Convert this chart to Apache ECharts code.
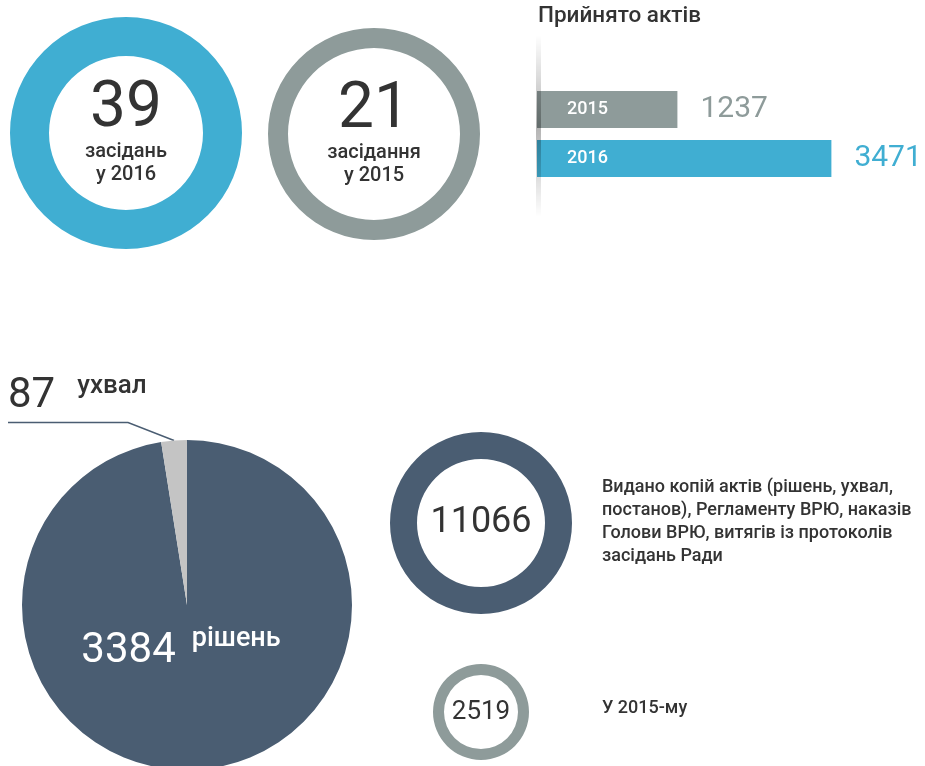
<!DOCTYPE html>
<html style="height: 100%">
  <head>
    <meta charset="UTF-8" />
    <title>ECharts</title>
    <script src="https://cdn.jsdelivr.net/npm/echarts/dist/echarts.min.js"></script>
  </head>
  <body style="height: 100%; margin: 0">
    <div id="main" style="width: 925px; height: 766px"></div>
    <script>
      var chartDom = document.getElementById('main');
      var myChart = echarts.init(chartDom);
      var option;

      // засідання
      var sessionYears = ['2016', '2015'];
      var sessionCounts = [39, 21];
      var sessionWords = ['засідань', 'засідання'];

      // прийнято актів
      var actYears = ['2015', '2016'];
      var actCounts = [1237, 3471];

      // рішення / ухвали
      var actTypes = ['рішень', 'ухвал'];
      var actTypeCounts = [3384, 87];

      // копії актів
      var copyCounts = [11066, 2519];
      var copyLabels = [
        'Видано копій актів (рішень, ухвал,\nпостанов), Регламенту ВРЮ, наказів\nГолови ВРЮ, витягів із протоколів\nзасідань Ради',
        'У 2015-му'
      ];

      var BLUE = '#40aed2';
      var GRAY = '#8e9b9a';
      var SLATE = '#4a5d72';
      var LIGHT = '#c4c4c4';
      var TEXT = '#333333';
      var NUM_FONT = 'Roboto, sans-serif';
      var FONT = 'Roboto, sans-serif';

      function ring(center, radius, color, value, formatter, rich) {
        return {
          type: 'pie',
          silent: true,
          center: center,
          radius: radius,
          startAngle: 90,
          itemStyle: { color: color },
          label: { show: true, position: 'center', formatter: formatter, rich: rich },
          labelLine: { show: false },
          data: [{ value: value, name: '' }]
        };
      }

      function sessionText(i) {
        return '{n|' + sessionCounts[i] + '}\n{t|' + sessionWords[i] + '}\n{t|у ' + sessionYears[i] + '}';
      }

      var sessionRich = {
        n: { fontFamily: NUM_FONT, fontSize: 64, lineHeight: 60, color: TEXT },
        t: { fontFamily: FONT, fontSize: 20, fontWeight: 500, lineHeight: 23, color: TEXT }
      };

      var actColors = [GRAY, BLUE];

      option = {
        animation: false,
        title: [
          {
            text: 'Прийнято актів',
            left: 538,
            top: 5,
            padding: 0,
            textStyle: { fontFamily: FONT, fontSize: 22.5, fontWeight: 500, color: TEXT }
          },
          {
            text: copyLabels[0],
            left: 602,
            top: 476,
            padding: 0,
            textStyle: { fontFamily: FONT, fontSize: 18, lineHeight: 23, fontWeight: 500, color: TEXT }
          },
          {
            text: copyLabels[1],
            left: 602,
            top: 697,
            padding: 0,
            textStyle: { fontFamily: FONT, fontSize: 18, lineHeight: 23, fontWeight: 500, color: TEXT }
          }
        ],
        grid: { left: 537, top: 85, width: 386, height: 98 },
        xAxis: { type: 'value', min: -800, max: 4800, startValue: -800, show: false },
        yAxis: { type: 'category', data: actYears, inverse: true, show: false },
        graphic: [
          {
            type: 'rect',
            z: 100,
            silent: true,
            shape: { x: 536, y: 35, width: 5, height: 182 },
            style: {
              fill: new echarts.graphic.LinearGradient(0, 0, 0, 1, [
                { offset: 0, color: 'rgba(0,0,0,0)' },
                { offset: 0.5, color: 'rgba(0,0,0,0.3)' },
                { offset: 1, color: 'rgba(0,0,0,0)' }
              ])
            }
          }
        ],
        series: [
          ring([126, 133], [77, 116], BLUE, sessionCounts[0], sessionText(0), sessionRich),
          ring([374, 134], [86, 106], GRAY, sessionCounts[1], sessionText(1), sessionRich),
          {
            type: 'bar',
            silent: true,
            barWidth: 37,
            barGap: '-100%',
            data: actCounts.map(function (v, i) {
              return { value: v, itemStyle: { color: actColors[i] } };
            }),
            label: {
              show: true,
              position: 'insideLeft',
              distance: 30,
              formatter: '{b}',
              color: '#fff',
              fontFamily: FONT,
              fontSize: 18,
              fontWeight: 500
            }
          },
          {
            type: 'bar',
            silent: true,
            barWidth: 37,
            barGap: '-100%',
            itemStyle: { color: 'transparent' },
            data: actCounts.map(function (v, i) {
              return { value: v, label: { color: actColors[i] } };
            }),
            label: {
              show: true,
              position: 'right',
              distance: 23,
              fontFamily: NUM_FONT,
              fontSize: 30
            }
          },
          {
            type: 'pie',
            silent: true,
            center: [187, 605],
            radius: [0, 165],
            startAngle: 90,
            clockwise: true,
            avoidLabelOverlap: false,
            data: [
              {
                value: actTypeCounts[0],
                name: actTypes[0],
                itemStyle: { color: SLATE },
                label: {
                  position: 'center',
                  rich: {
                    n: { fontFamily: NUM_FONT, fontSize: 42, lineHeight: 50, color: '#fff' },
                    t: { fontFamily: FONT, fontSize: 27, lineHeight: 34, fontWeight: 500, color: '#fff', verticalAlign: 'top', padding: [0, 0, 0, 16] }
                  }
                },
                labelLine: { show: false }
              },
              {
                value: actTypeCounts[1],
                name: actTypes[1],
                itemStyle: { color: LIGHT },
                label: {
                  position: 'outside',
                  rich: {
                    n: { fontFamily: NUM_FONT, fontSize: 42, lineHeight: 46, color: TEXT },
                    t: { fontFamily: FONT, fontSize: 26, lineHeight: 42, fontWeight: 500, color: TEXT, verticalAlign: 'top', padding: [0, 0, 0, 22] }
                  }
                },
                labelLine: { show: true, length: 18, length2: 100, smooth: false, lineStyle: { color: SLATE, width: 1.5 } }
              }
            ],
            label: {
              show: true,
              formatter: function (p) {
                return '{n|' + p.value + '}{t|' + p.name + '}';
              }
            },
            labelLayout: function (p) {
              if (p.dataIndex === 0) {
                return { dx: -6, dy: 46 };
              }
              var pts = p.labelLinePoints;
              if (!pts) return {};
              var s = pts[0];
              var bend = [s[0] - 46, s[1] - 18];
              return {
                x: 8,
                y: bend[1] - 3,
                align: 'left',
                verticalAlign: 'bottom',
                labelLinePoints: [s, bend, [8, bend[1]]]
              };
            }
          },
          ring([481, 523], [64, 91], SLATE, copyCounts[0], '{n|' + copyCounts[0] + '}', {
            n: { fontFamily: NUM_FONT, fontSize: 36, color: TEXT }
          }),
          ring([481, 712], [37, 48], GRAY, copyCounts[1], '{n|' + copyCounts[1] + '}', {
            n: { fontFamily: NUM_FONT, fontSize: 26, color: TEXT }
          })
        ]
      };

      option && myChart.setOption(option);
    </script>
  </body>
</html>
